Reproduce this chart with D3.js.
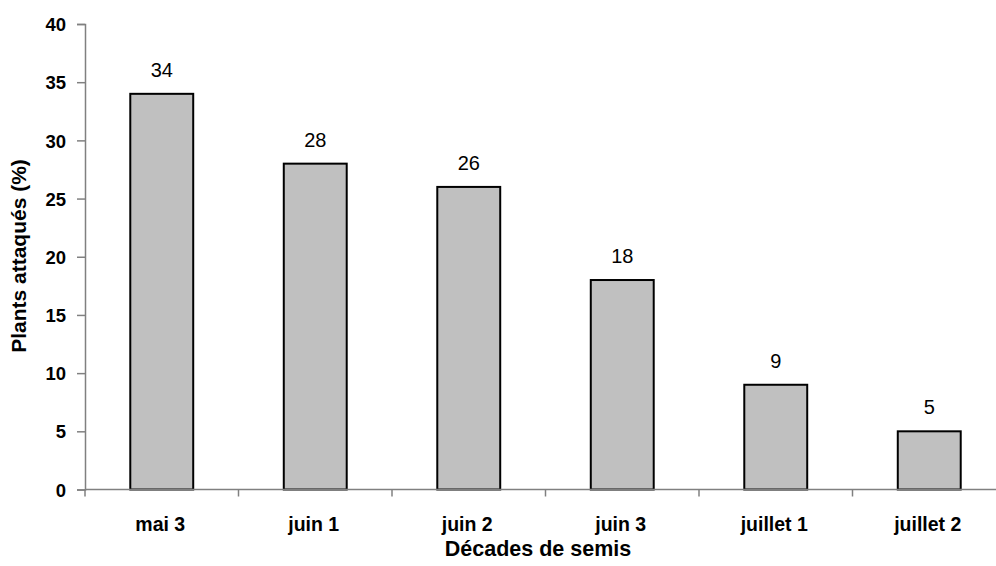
<!DOCTYPE html>
<html>
<head>
<meta charset="utf-8">
<script src="https://cdn.jsdelivr.net/npm/d3@7"></script>
<style>
  html, body { margin: 0; padding: 0; background: #fff; }
  svg { display: block; }
  text { font-family: "Liberation Sans", Arial, sans-serif; fill: #000; }
</style>
</head>
<body>
<svg id="chart" width="996" height="566"></svg>
<script>
// Sowing decades and the share of attacked plants (%)
const decades = ["mai 3", "juin 1", "juin 2", "juin 3", "juillet 1", "juillet 2"];
const attacked = [34, 28, 26, 18, 9, 5];
const yTicks = [0, 5, 10, 15, 20, 25, 30, 35, 40];

const svg = d3.select("#chart");
const plotLeft = 85, plotRight = 1006, plotTop = 24, plotBottom = 489.5;

const x = d3.scaleBand().domain(decades).range([plotLeft, plotRight]).paddingInner(0.59).paddingOuter(0.295);
const y = d3.scaleLinear().domain([0, 40]).range([plotBottom, plotTop]);

// Y axis
const yAxis = svg.append("g").attr("transform", `translate(${plotLeft},0)`)
  .call(d3.axisLeft(y).tickValues(yTicks).tickSize(8).tickPadding(11).tickFormat(d3.format("d")));
yAxis.select(".domain").attr("stroke", "#808080").attr("stroke-width", 1.5);
yAxis.selectAll(".tick line").attr("stroke", "#808080").attr("stroke-width", 1.5);
yAxis.selectAll(".tick text").style("font-size", "18.5px").style("font-weight", "bold")
  .attr("dy", "0.36em");

// Bars
svg.append("g").selectAll("rect").data(decades).join("rect")
  .attr("x", d => x(d))
  .attr("y", (d, i) => y(attacked[i]))
  .attr("width", x.bandwidth())
  .attr("height", (d, i) => y(0) - y(attacked[i]))
  .attr("fill", "#c0c0c0")
  .attr("stroke", "#000")
  .attr("stroke-width", 2);

// X axis with tick marks between categories
const xg = svg.append("g");
xg.append("line").attr("x1", plotLeft).attr("x2", plotRight).attr("y1", plotBottom).attr("y2", plotBottom)
  .attr("stroke", "#808080").attr("stroke-width", 1.5);
const step = x.step();
xg.selectAll("line.tk").data(d3.range(decades.length + 1)).join("line")
  .attr("class", "tk")
  .attr("x1", i => plotLeft + i * step).attr("x2", i => plotLeft + i * step)
  .attr("y1", plotBottom).attr("y2", plotBottom + 7)
  .attr("stroke", "#808080").attr("stroke-width", 1.5);
xg.selectAll("text").data(decades).join("text")
  .attr("x", d => x(d) + x.bandwidth() / 2 - 1.5)
  .attr("y", 530.5)
  .attr("text-anchor", "middle")
  .style("font-size", "19.5px").style("font-weight", "bold")
  .text(d => d);

// Value labels above bars
svg.append("g").selectAll("text").data(decades).join("text")
  .attr("x", d => x(d) + x.bandwidth() / 2)
  .attr("y", (d, i) => y(attacked[i]) - 17)
  .attr("text-anchor", "middle")
  .style("font-size", "20px")
  .text((d, i) => attacked[i]);

// Axis titles
svg.append("text")
  .attr("x", 538).attr("y", 555.5)
  .attr("text-anchor", "middle")
  .style("font-size", "21.5px").style("font-weight", "bold")
  .text("Décades de semis");

svg.append("text")
  .attr("transform", `translate(26,256) rotate(-90)`)
  .attr("text-anchor", "middle")
  .style("font-size", "21px").style("font-weight", "bold")
  .text("Plants attaqués (%)");
</script>
</body>
</html>
